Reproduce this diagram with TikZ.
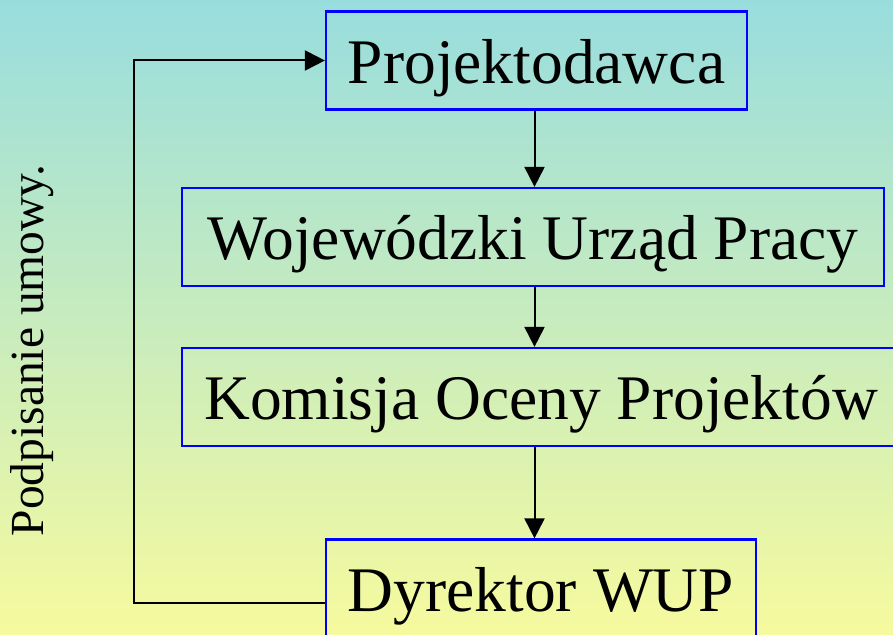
\documentclass[tikz,border=0pt]{standalone}
\usepackage{fontspec}
\setmainfont{Liberation Serif}
\usetikzlibrary{arrows.meta}
\definecolor{bgtop}{RGB}{152,221,222}
\definecolor{bgbot}{RGB}{246,250,158}
\definecolor{boxblue}{RGB}{0,0,255}
\tikzset{
  box/.style={draw=boxblue, line width=2.2pt, inner sep=0pt,
    minimum height=98pt, text height=58pt, text depth=12pt,
    font=\fontsize{63.5}{70}\selectfont, anchor=center},
  conn/.style={line width=2pt, draw=black},
  tip/.style={-{Triangle[length=20pt,width=20pt]}}
}
\begin{document}
\begin{tikzpicture}[x=1pt,y=1pt]
\useasboundingbox (0,0) rectangle (893,634);
\shade[top color=bgtop, bottom color=bgbot] (0,0) rectangle (893,634);
% boxes (y-up: y = 634 - ypx)
\node[box, minimum width=421pt] (b1) at (536.5,573.5) {Projektodawca};
\node[box, minimum width=702pt] (b2) at (533,397) {Wojewódzki Urząd Pracy};
\node[box, minimum width=718pt] (b3) at (541,237) {Komisja Oceny Projektów};
\node[box, minimum width=430pt] (b4) at (541,45.5) {Dyrektor WUP};
\coordinate (ax) at (534.5,0);
\coordinate (lp) at (134,31);
\draw[conn, tip] (b1.south -| ax) -- (b2.north -| ax);
\draw[conn, tip] (b2.south -| ax) -- (b3.north -| ax);
\draw[conn, tip] (b3.south -| ax) -- (b4.north -| ax);
\draw[conn, tip] (b4.west |- lp) -- (lp) |- (b1.west);
\node[rotate=90, anchor=base, inner sep=0pt, font=\fontsize{47.5}{52}\selectfont] (lbl) at (43.5,283.5) {Podpisanie umowy.};
\end{tikzpicture}
\end{document}
